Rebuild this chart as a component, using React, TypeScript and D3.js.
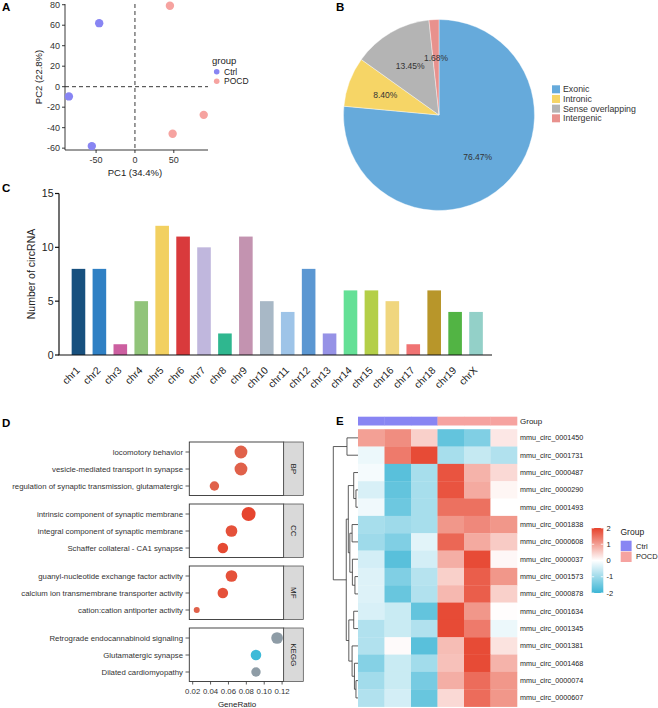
import React from 'react';
import * as d3 from 'd3';

const FONT = "'Liberation Sans', Arial, Helvetica, sans-serif";

// ---------- Panel A : PCA ----------
const pcaGroup = ['Ctrl', 'Ctrl', 'Ctrl', 'POCD', 'POCD', 'POCD'];
const pcaPC1 = [-46, -85, -55.5, 45, 88.5, 48.5];
const pcaPC2 = [62, -9.5, -58, 79, -27.5, -46];
const pcaXTicks = [-50, 0, 50];
const pcaYTicks = [-60, -40, -20, 0, 20, 40, 60, 80];
const groupNames = ['Ctrl', 'POCD'];
const groupColors = ['#8885f3', '#f6a3a0'];

// ---------- Panel B : pie ----------
const pieCategories = ['Exonic', 'Intronic', 'Sense overlapping', 'Intergenic'];
const pieValues = [76.47, 8.4, 13.45, 1.68];
const pieColors = ['#66aadb', '#f6d566', '#b4b4b4', '#e8918d'];

// ---------- Panel C : bars ----------
const chrNames = ['chr1', 'chr2', 'chr3', 'chr4', 'chr5', 'chr6', 'chr7', 'chr8', 'chr9', 'chr10', 'chr11', 'chr12', 'chr13', 'chr14', 'chr15', 'chr16', 'chr17', 'chr18', 'chr19', 'chrX'];
const chrCounts = [8, 8, 1, 5, 12, 11, 10, 2, 11, 5, 4, 8, 2, 6, 6, 5, 1, 6, 4, 4];
const chrColors = ['#17507e', '#2f80c4', '#cc5fa0', '#91c47a', '#f2d060', '#d93a3c', '#c0b7dd', '#2fb78f', '#c393b0', '#a8b8c6', '#9ec4e8', '#5b97d2', '#9692e6', '#64e096', '#b4cf48', '#f0d67e', '#f07373', '#b8962a', '#52b444', '#93d0c8'];
const chrYTicks = [0, 5, 10, 15];

// ---------- Panel D : enrichment ----------
const goFacets = ['BP', 'CC', 'MF', 'KEGG'];
const goTerms = [
  'locomotory behavior', 'vesicle-mediated transport in synapse', 'regulation of synaptic transmission, glutamatergic',
  'intrinsic component of synaptic membrane', 'integral component of synaptic membrane', 'Schaffer collateral - CA1 synapse',
  'guanyl-nucleotide exchange factor activity', 'calcium ion transmembrane transporter activity', 'cation:cation antiporter activity',
  'Retrograde endocannabinoid signaling', 'Glutamatergic synapse', 'Dilated cardiomyopathy',
];
const goFacetOf = [0, 0, 0, 1, 1, 1, 2, 2, 2, 3, 3, 3];
const goRatio = [0.074, 0.074, 0.0443, 0.0825, 0.0634, 0.0537, 0.0634, 0.0537, 0.0245, 0.1144, 0.0908, 0.0908];
const goCount = [9, 9, 6, 10, 8, 7, 8, 7, 3, 8, 7, 6];
const goColors = ['#e0614a', '#e0614a', '#e0614a', '#e6452f', '#e5513a', '#e54a33', '#e5513a', '#e5513a', '#e0614a', '#8e9ca6', '#3dbad8', '#8e9ca6'];
const goXTicks = [0.02, 0.04, 0.06, 0.08, 0.1, 0.12];

// ---------- Panel E : heatmap ----------
const heatRows = ['mmu_circ_0001450', 'mmu_circ_0001731', 'mmu_circ_0000487', 'mmu_circ_0000290', 'mmu_circ_0001493', 'mmu_circ_0001838', 'mmu_circ_0000608', 'mmu_circ_0000037', 'mmu_circ_0001573', 'mmu_circ_0000878', 'mmu_circ_0001634', 'mmu_circ_0001345', 'mmu_circ_0001381', 'mmu_circ_0001468', 'mmu_circ_0000074', 'mmu_circ_0000607'];
const heatColGroups = ['Ctrl', 'Ctrl', 'Ctrl', 'POCD', 'POCD', 'POCD'];
const heatValues = [
  [1.0, 1.2, 0.5, -1.6, -1.3, 0.25],
  [-0.2, 1.4, 1.9, -0.9, -0.6, -0.8],
  [-0.1, -1.7, -0.9, 1.8, 0.8, 0.4],
  [-0.4, -1.6, -0.9, 1.8, 0.9, 0.1],
  [-0.15, -1.5, -0.9, 1.5, 1.5, 0.0],
  [-0.9, -1.0, -0.9, 1.1, 1.25, 1.1],
  [-1.0, -1.3, -0.3, 1.6, 0.9, 0.55],
  [-0.45, -1.7, -0.45, 0.85, 1.9, 0.08],
  [-0.35, -1.3, -0.75, 0.5, 1.7, 1.1],
  [-0.35, -1.55, -0.8, 0.75, 1.7, 0.5],
  [-0.4, -0.55, -1.6, 1.9, 1.1, 0.02],
  [-0.8, -0.55, -0.8, 1.9, 1.4, -0.2],
  [-0.8, 0.05, -1.7, 0.7, 1.9, 0.3],
  [-1.25, -0.55, -0.95, 0.65, 1.9, 0.8],
  [-0.95, -0.55, -1.4, 0.85, 1.55, 1.1],
  [-0.8, -0.45, -1.55, 0.4, 1.55, 1.1],
];
const heatLegendTicks = [2, 1, 0, -1, -2];
type TreeNode = number | { h: number; c: [TreeNode, TreeNode] };
const heatTree: TreeNode = {
  h: 24.2, c: [
    { h: 10.8, c: [0, 1] },
    { h: 11.5, c: [
      { h: 9.5, c: [
        { h: 4.2, c: [2, { h: 2, c: [3, 4] }] },
        { h: 8, c: [{ h: 5.8, c: [5, 6] }, { h: 5.5, c: [7, { h: 3, c: [8, 9] }] }] },
      ] },
      { h: 9, c: [
        { h: 4.2, c: [10, 11] },
        { h: 5.8, c: [12, { h: 3.5, c: [13, { h: 2, c: [14, 15] }] }] },
      ] },
    ] },
  ],
};

const PanelLabel = ({ x, y, t }: { x: number; y: number; t: string }) => (
  <text x={x} y={y} fontSize={11.5} fontWeight="bold" fill="#000">{t}</text>
);

function PanelA() {
  const x = d3.scaleLinear().domain([-90, 94]).range([65, 208]);
  const y = d3.scaleLinear().domain([-61.8, 80.7]).range([150, 4]);
  const col = d3.scaleOrdinal<string, string>().domain(groupNames).range(groupColors);
  return (
    <g>
      <PanelLabel x={2} y={11} t="A" />
      <line x1={x(-90)} x2={x(94)} y1={y(0)} y2={y(0)} stroke="#222" strokeWidth={0.9} strokeDasharray="4,3" />
      <line x1={x(0)} x2={x(0)} y1={y(80.7)} y2={y(-61.8)} stroke="#222" strokeWidth={0.9} strokeDasharray="4,3" />
      <line x1={65} x2={65} y1={y(80.7)} y2={150} stroke="#222" strokeWidth={0.9} />
      <line x1={65} x2={208} y1={150} y2={150} stroke="#222" strokeWidth={0.9} />
      {pcaYTicks.map((t) => (
        <g key={t}>
          <line x1={62} x2={65} y1={y(t)} y2={y(t)} stroke="#222" strokeWidth={0.9} />
          <text x={60} y={y(t) + 3.2} fontSize={9} textAnchor="end" fill="#333">{t}</text>
        </g>
      ))}
      {pcaXTicks.map((t) => (
        <g key={t}>
          <line x1={x(t)} x2={x(t)} y1={150} y2={153} stroke="#222" strokeWidth={0.9} />
          <text x={x(t)} y={163} fontSize={9} textAnchor="middle" fill="#333">{t}</text>
        </g>
      ))}
      <text x={x(0)} y={175.5} fontSize={9.5} textAnchor="middle" fill="#222">PC1 (34.4%)</text>
      <text transform={`translate(41.5,77) rotate(-90)`} fontSize={9.5} textAnchor="middle" fill="#222">PC2 (22.8%)</text>
      {pcaPC1.map((v, i) => (
        <circle key={i} cx={x(v)} cy={y(pcaPC2[i])} r={4.2} fill={col(pcaGroup[i])} />
      ))}
      <text x={212} y={64} fontSize={9.5} fill="#222">group</text>
      {groupNames.map((g, i) => (
        <g key={g}>
          <circle cx={216.7} cy={71.7 + i * 9.5} r={2.8} fill={col(g)} />
          <text x={224} y={74.7 + i * 9.5} fontSize={8.5} fill="#222">{g}</text>
        </g>
      ))}
    </g>
  );
}

function PanelB() {
  const cx = 439, cy = 115, r = 95.5;
  const arcs = d3.pie<number>().sort(null).value((d) => d)(pieValues);
  const arc = d3.arc<d3.PieArcDatum<number>>().innerRadius(0).outerRadius(r);
  const lab = d3.arc<d3.PieArcDatum<number>>().innerRadius(r * 0.6).outerRadius(r * 0.6);
  return (
    <g>
      <PanelLabel x={336} y={11} t="B" />
      <g transform={`translate(${cx},${cy})`}>
        {arcs.map((a, i) => (
          <path key={i} d={arc(a) || ''} fill={pieColors[i]} stroke="#fff" strokeWidth={0.4} />
        ))}
        {arcs.map((a, i) => {
          const [lx, ly] = lab.centroid(a);
          return (
            <text key={i} x={lx} y={ly + 3} fontSize={8.5} textAnchor="middle" fill="#333">
              {pieValues[i].toFixed(2)}%
            </text>
          );
        })}
      </g>
      {pieCategories.map((c, i) => (
        <g key={c}>
          <rect x={552} y={85.3 + i * 9.67} width={8} height={8} fill={pieColors[i]} />
          <text x={563} y={92.4 + i * 9.67} fontSize={8.8} fill="#333">{c}</text>
        </g>
      ))}
    </g>
  );
}

function PanelC() {
  const x = d3.scaleBand().domain(chrNames).range([68, 486.5]).paddingInner(0.35).paddingOuter(0.175);
  const y = d3.scaleLinear().domain([0, 15]).range([355, 193.5]);
  return (
    <g>
      <PanelLabel x={2} y={192} t="C" />
      {chrNames.map((c, i) => (
        <rect key={c} x={x(c)} y={y(chrCounts[i])} width={x.bandwidth()} height={y(0) - y(chrCounts[i])} fill={chrColors[i]} />
      ))}
      <line x1={59} x2={59} y1={y(15)} y2={y(0)} stroke="#111" strokeWidth={1.2} />
      <line x1={58.4} x2={492} y1={y(0)} y2={y(0)} stroke="#111" strokeWidth={1.2} />
      {chrYTicks.map((t) => (
        <g key={t}>
          <line x1={55} x2={59} y1={y(t)} y2={y(t)} stroke="#111" strokeWidth={1.2} />
          <text x={53.5} y={y(t) + 3.7} fontSize={10.5} textAnchor="end" fill="#222">{t}</text>
        </g>
      ))}
      {chrNames.map((c) => (
        <text key={c} transform={`translate(${(x(c) as number) + x.bandwidth() / 2 + 2},${371}) rotate(-45)`} fontSize={10.2} textAnchor="end" fill="#222">{c}</text>
      ))}
      <text transform={`translate(35,274) rotate(-90)`} fontSize={10.5} textAnchor="middle" fill="#222">Number of circRNA</text>
    </g>
  );
}

function PanelD() {
  const x = d3.scaleLinear().domain([0.0162, 0.1218]).range([189.3, 283.7]);
  const facetTop = d3.scaleBand().domain(goFacets).range([442, 681.5 + 8.5]).paddingInner(0);
  const facetH = 53.5;
  const rowY = (i: number) => {
    const f = goFacets[goFacetOf[i]];
    const k = goFacetOf.slice(0, i).filter((v) => v === goFacetOf[i]).length;
    return (facetTop(f) as number) + 10 + k * 17;
  };
  const r = d3.scaleLinear().domain([3, 10]).range([3, 7]);
  return (
    <g>
      <PanelLabel x={2} y={427} t="D" />
      {goFacets.map((f) => {
        const top = facetTop(f) as number;
        return (
          <g key={f}>
            <rect x={189.3} y={top} width={283.7 - 189.3} height={facetH} fill="#fff" stroke="#333" strokeWidth={0.9} />
            <rect x={283.7} y={top} width={19.6} height={facetH} fill="#d9d9d9" stroke="#444" strokeWidth={0.7} />
            <text transform={`translate(${293.5},${top + facetH / 2}) rotate(90)`} fontSize={8} textAnchor="middle" dominantBaseline="central" fill="#1a1a1a">{f}</text>
          </g>
        );
      })}
      {goTerms.map((t, i) => (
        <g key={t}>
          <line x1={185.5} x2={189.3} y1={rowY(i)} y2={rowY(i)} stroke="#333" strokeWidth={0.8} />
          <text x={183} y={rowY(i) + 2.8} fontSize={7.8} textAnchor="end" fill="#333">{t}</text>
          <circle cx={x(goRatio[i])} cy={rowY(i)} r={r(goCount[i])} fill={goColors[i]} />
        </g>
      ))}
      {goXTicks.map((t) => (
        <g key={t}>
          <line x1={x(t)} x2={x(t)} y1={681.5} y2={684.5} stroke="#333" strokeWidth={0.8} />
          <text x={x(t)} y={693.8} fontSize={7.8} textAnchor="middle" fill="#333">{t.toFixed(2)}</text>
        </g>
      ))}
      <text x={237} y={706.5} fontSize={8} textAnchor="middle" fill="#222">GeneRatio</text>
    </g>
  );
}

function PanelE() {
  const cols = d3.range(heatColGroups.length);
  const x = d3.scaleBand<number>().domain(cols).range([358, 517]);
  const y = d3.scaleBand<string>().domain(heatRows).range([429.2, 706.6]);
  const color = d3.scaleLinear<string>().domain([-2, 0, 2]).range(['#3cb5d5', '#ffffff', '#e6412b']).clamp(true);
  const gcol = d3.scaleOrdinal<string, string>().domain(groupNames).range(groupColors);
  const dx = d3.scaleLinear().domain([0, 24.2]).range([358, 333.3]);
  const segs: string[] = [];
  const walk = (n: TreeNode): { x: number; y: number } => {
    if (typeof n === 'number') return { x: dx(0), y: (y(heatRows[n]) as number) + y.bandwidth() / 2 };
    const a = walk(n.c[0]);
    const b = walk(n.c[1]);
    const nx = dx(n.h);
    segs.push(`M${a.x},${a.y}H${nx}V${b.y}H${b.x}`);
    return { x: nx, y: (a.y + b.y) / 2 };
  };
  walk(heatTree);
  const ly = d3.scaleLinear().domain([-2, 2]).range([593, 528]);
  const stops = d3.range(0, 1.0001, 0.1);
  return (
    <g>
      <PanelLabel x={336} y={425} t="E" />
      {cols.map((c) => (
        <rect key={c} x={x(c)} y={416.7} width={x.bandwidth() + 0.3} height={8.8} fill={gcol(heatColGroups[c])} />
      ))}
      <text x={520} y={424} fontSize={8} fill="#222">Group</text>
      {heatValues.map((row, ri) =>
        row.map((v, ci) => (
          <rect key={`${ri}-${ci}`} x={x(ci)} y={y(heatRows[ri])} width={x.bandwidth() + 0.3} height={y.bandwidth() + 0.3} fill={color(v)} />
        ))
      )}
      {heatRows.map((r) => (
        <text key={r} x={520} y={(y(r) as number) + y.bandwidth() / 2 + 2.5} fontSize={7.2} fill="#222">{r}</text>
      ))}
      <path d={segs.join('')} fill="none" stroke="#333" strokeWidth={0.8} />
      <defs>
        <linearGradient id="hmgrad" x1="0" y1="1" x2="0" y2="0">
          {stops.map((s) => (
            <stop key={s} offset={s} stopColor={color(-2 + 4 * s)} />
          ))}
        </linearGradient>
      </defs>
      <rect x={591.7} y={ly(2)} width={11.6} height={ly(-2) - ly(2)} fill="url(#hmgrad)" />
      {heatLegendTicks.map((t) => (
        <g key={t}>
          <line x1={591.7} x2={594.2} y1={ly(t)} y2={ly(t)} stroke="#fff" strokeWidth={0.8} />
          <line x1={600.8} x2={603.3} y1={ly(t)} y2={ly(t)} stroke="#fff" strokeWidth={0.8} />
          <text x={606.5} y={ly(t) + 2.6} fontSize={7.5} fill="#222">{t}</text>
        </g>
      ))}
      <text x={620.5} y={534.5} fontSize={8.5} fill="#222">Group</text>
      {groupNames.map((g, i) => (
        <g key={g}>
          <rect x={620.7} y={540.7 + i * 10.9} width={10.9} height={10.4} fill={gcol(g)} />
          <text x={636} y={548.5 + i * 10.9} fontSize={7.5} fill="#222">{g}</text>
        </g>
      ))}
    </g>
  );
}

export default function App() {
  return (
    <svg width={658} height={708} viewBox="0 0 658 708" style={{ position: 'absolute', left: 0, top: 0, background: '#fff' }} fontFamily={FONT}>
      <rect width={658} height={708} fill="#fff" />
      <PanelA />
      <PanelB />
      <PanelC />
      <PanelD />
      <PanelE />
    </svg>
  );
}
